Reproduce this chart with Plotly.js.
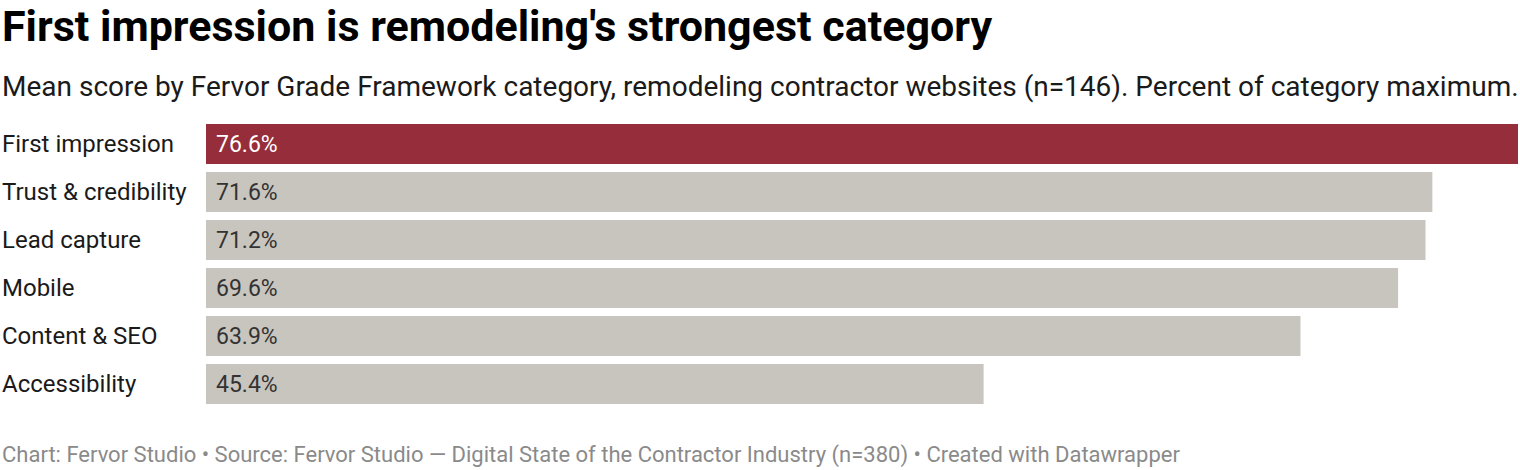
<!DOCTYPE html>
<html>
<head>
<meta charset="utf-8">
<script src="https://cdn.plot.ly/plotly-3.0.1.min.js"></script>
<style>
html,body{margin:0;padding:0;background:#fff;}
#chart{width:1520px;height:470px;}
</style>
</head>
<body>
<div id="chart"></div>
<script>
const categories = ["First impression", "Trust & credibility", "Lead capture", "Mobile", "Content & SEO", "Accessibility"];
const values = [76.6, 71.6, 71.2, 69.6, 63.9, 45.4];
const valueLabels = ["76.6%", "71.6%", "71.2%", "69.6%", "63.9%", "45.4%"];
const highlight = "First impression";

const titleText = "First impression is remodeling's strongest category";
const subtitleText = "Mean score by Fervor Grade Framework category, remodeling contractor websites (n=146). Percent of category maximum.";
const footerText = "Chart: Fervor Studio • Source: Fervor Studio — Digital State of the Contractor Industry (n=380) • Created with Datawrapper";

const W = 1520, H = 470;
const margin = {l: 206, r: 2, t: 120, b: 62};
const plotW = W - margin.l - margin.r;
const plotH = H - margin.t - margin.b;
const FONT = "Roboto, 'Noto Sans', sans-serif";

const RED = "#962d3a", GREY = "#c8c5be";
const colors = categories.map(c => c === highlight ? RED : GREY);
const textColors = categories.map(c => c === highlight ? "#ffffff" : "#333333");

const trace = {
  type: "bar",
  orientation: "h",
  y: categories,
  x: values,
  marker: {color: colors, line: {width: 0}},
  hoverinfo: "none",
  cliponaxis: false
};

const px2paperX = px => (px - margin.l) / plotW;
const px2paperY = py => (margin.t + plotH - py) / plotH;

const annotations = [];
categories.forEach((c, i) => {
  annotations.push({
    xref: "paper", yref: "y", x: px2paperX(0), y: c,
    text: c, showarrow: false, xanchor: "left", yanchor: "middle",
    font: {family: FONT, size: 24, color: "#1a1a1a"}
  });
  annotations.push({
    xref: "x", yref: "y", x: 0, y: c, xshift: 8,
    text: valueLabels[i], showarrow: false, xanchor: "left", yanchor: "middle",
    font: {family: FONT, size: 23, color: textColors[i]}
  });
});
annotations.push({
  xref: "paper", yref: "paper", x: px2paperX(0), y: px2paperY(26),
  text: "<b>" + titleText + "</b>", showarrow: false, xanchor: "left", yanchor: "middle",
  font: {family: FONT, size: 43, color: "#000000"}
});
annotations.push({
  xref: "paper", yref: "paper", x: px2paperX(0), y: px2paperY(86),
  text: subtitleText, showarrow: false, xanchor: "left", yanchor: "middle",
  font: {family: FONT, size: 28, color: "#1a1a1a"}
});
annotations.push({
  xref: "paper", yref: "paper", x: px2paperX(0), y: px2paperY(455),
  text: footerText, showarrow: false, xanchor: "left", yanchor: "middle",
  font: {family: FONT, size: 22, color: "#8a8a8a"}
});

const layout = {
  width: W, height: H,
  margin: margin,
  paper_bgcolor: "#ffffff", plot_bgcolor: "#ffffff",
  showlegend: false,
  bargap: 8/48,
  xaxis: {range: [0, 76.6], visible: false, fixedrange: true},
  yaxis: {autorange: "reversed", visible: false, fixedrange: true, type: "category"},
  annotations: annotations
};

Plotly.newPlot("chart", [trace], layout, {staticPlot: true, displayModeBar: false});
</script>
</body>
</html>
